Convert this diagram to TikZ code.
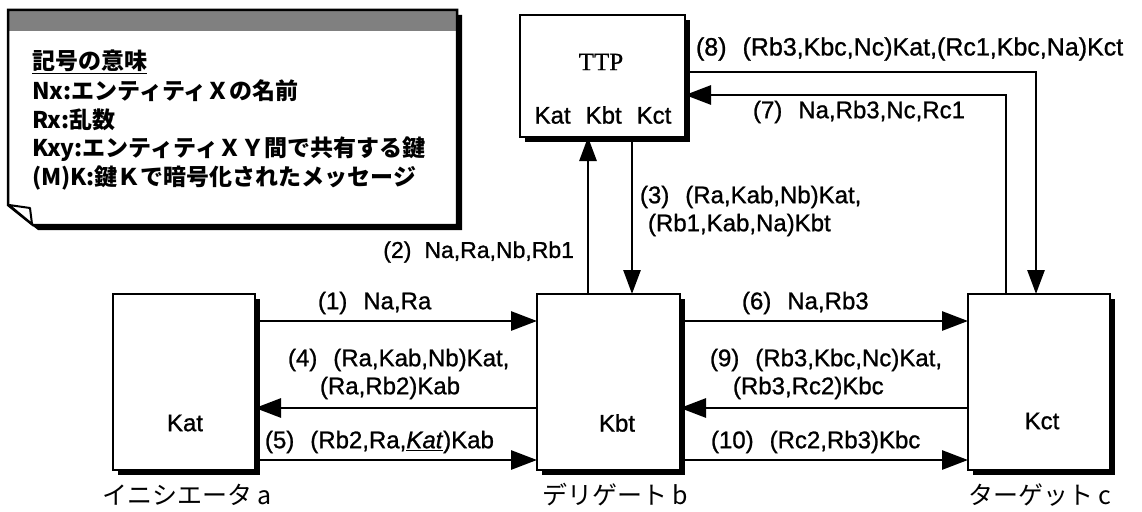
\documentclass[tikz,border=0pt]{standalone}
\usepackage{fontspec}
\setmainfont{Liberation Sans}[FakeBold=1]
\newfontfamily\jp{Noto Sans CJK JP}
\newfontfamily\ttpfont{Liberation Serif}[FakeBold=0.5]
\usetikzlibrary{arrows.meta,shadows}
\begin{document}
\begin{tikzpicture}[x=1pt,y=-1pt,
  every node/.style={inner sep=0pt,outer sep=0pt},
  entbox/.style={draw,line width=2.5pt,fill=white,
    drop shadow={shadow xshift=5pt,shadow yshift=-5pt,fill=black,opacity=1}},
  txt/.style={font=\fontsize{24}{28}\selectfont},
  lbl/.style={txt,anchor=west},
  notetxt/.style={font=\jp\bfseries\fontsize{23}{27}\selectfont,anchor=west},
  role/.style={font=\jp\fontsize{25}{29}\selectfont,anchor=west},
  arr/.style={line width=2.8pt,-{Triangle[length=26pt,width=19pt]}},
  varr/.style={line width=2.8pt,-{Triangle[length=24pt,width=17pt]}}
]
\useasboundingbox (0,0) rectangle (1142,511);
\newcommand{\gp}{\hspace{16pt}}

% ---- note ----
\fill[black] (13,15) -- (462,15) -- (462,230) -- (38,230) -- (13,210) -- cycle;
\fill[white] (8,10) -- (457,10) -- (457,225) -- (33,225) -- (8,205) -- cycle;
\fill[black!50] (8,10) rectangle (457,31);
\draw[line width=2.5pt,line join=miter] (8,10) -- (457,10) -- (457,225) -- (33,225) -- (8,205) -- cycle;
\draw[line width=2pt,fill=white,line join=round] (9,205) -- (30,208) -- (32,224) -- cycle;
\node[notetxt] (n0) at (32,62) {\underline{記号の意味}};
\node[notetxt] (n1) at (32,91) {Nx:エンティティＸの名前};
\node[notetxt] (n2) at (32,120) {Rx:乱数};
\node[notetxt] (n3) at (32,149) {Kxy:エンティティＸＹ間で共有する鍵};
\node[notetxt] (n4) at (32,178) {(M)K:鍵Ｋで暗号化されたメッセージ};

% ---- entity boxes ----
\node[entbox,minimum width=142pt,minimum height=176pt] (kat) at (184,382) {};
\node[entbox,minimum width=143pt,minimum height=176pt] (kbt) at (608.5,382) {};
\node[entbox,minimum width=142pt,minimum height=176pt] (kct) at (1039,382) {};
\node[entbox,minimum width=165pt,minimum height=122pt] (ttp) at (602.5,76) {};

\node[txt] (katk) at (185,423) {Kat};
\node[txt] (kbtk) at (617,423) {Kbt};
\node[txt] (kctk) at (1042,421) {Kct};
\node[font=\ttpfont\fontsize{25}{29}\selectfont] (ttpt) at (601,62) {TTP};
\node[txt] (ttpk) at (603,115) {Kat\hspace{15pt}Kbt\hspace{15pt}Kct};

\node[role] (ra) at (102,495) {イニシエータ a};
\node[role] (rb) at (542,495) {デリゲート b};
\node[role] (rc) at (968,495) {ターゲット c};

% ---- helper coordinates ----
\coordinate (y1) at (0,321);
\coordinate (y4) at (0,408);
\coordinate (y5) at (0,460);
\coordinate (x2) at (588,0);
\coordinate (x3) at (632,0);
\coordinate (x7) at (1006,0);
\coordinate (x8) at (1036,0);
\coordinate (y8) at (0,72);
\coordinate (y7) at (0,95);

% ---- connectors ----
\draw[arr] (kat.east |- y1) -- (kbt.west |- y1);
\draw[arr] (kbt.west |- y4) -- (kat.east |- y4);
\draw[arr] (kat.east |- y5) -- (kbt.west |- y5);
\draw[arr] (kbt.east |- y1) -- (kct.west |- y1);
\draw[arr] (kct.west |- y4) -- (kbt.east |- y4);
\draw[arr] (kbt.east |- y5) -- (kct.west |- y5);
\draw[varr] (x2 |- kbt.north) -- (x2 |- ttp.south);
\draw[varr] (x3 |- ttp.south) -- (x3 |- kbt.north);
\draw[varr] (ttp.east |- y8) -| (x8 |- kct.north);
\draw[arr] (x7 |- kct.north) |- (ttp.east |- y7);

% ---- labels ----
\node[lbl] (l1) at (318,303) {(1)\gp Na,Ra};
\node[lbl] (l4a) at (288,360) {(4)\gp (Ra,Kab,Nb)Kat,};
\node[lbl] (l4b) at (320,388) {(Ra,Rb2)Kab};
\node[lbl] (l5) at (265,442) {(5)\gp (Rb2,Ra,\underline{\textit{Kat}})Kab};
\node[lbl] (l6) at (742,303) {(6)\gp Na,Rb3};
\node[lbl] (l9a) at (710,360) {(9)\gp (Rb3,Kbc,Nc)Kat,};
\node[lbl] (l9b) at (733,388) {(Rb3,Rc2)Kbc};
\node[lbl] (l10) at (711,442) {(10)\gp (Rc2,Rb3)Kbc};
\node[txt,anchor=east,font=\fontsize{23}{27}\selectfont] (l2) at (574,252) {(2)\hspace{13pt}Na,Ra,Nb,Rb1};
\node[lbl] (l3a) at (640,197) {(3)\gp (Ra,Kab,Nb)Kat,};
\node[lbl] (l3b) at (648,225) {(Rb1,Kab,Na)Kbt};
\node[lbl] (l7) at (753,112) {(7)\gp Na,Rb3,Nc,Rc1};
\node[lbl,font=\fontsize{25}{29}\selectfont] (l8) at (696,49) {(8)\gp (Rb3,Kbc,Nc)Kat,(Rc1,Kbc,Na)Kct};
\end{tikzpicture}
\end{document}
